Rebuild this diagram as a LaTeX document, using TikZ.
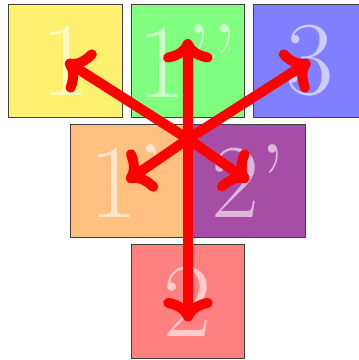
\documentclass[tikz,border=0pt]{standalone}
\usetikzlibrary{arrows.meta}
\definecolor{tileyellow}{HTML}{FFF170}
\definecolor{tilegreen}{HTML}{80FF80}
\definecolor{tileblue}{HTML}{8080FF}
\definecolor{tileorange}{HTML}{FFC080}
\definecolor{tilepurple}{HTML}{A64DA6}
\definecolor{tilered}{HTML}{FF8080}

\begin{document}
\begin{tikzpicture}[
    x=1pt, y=-1pt,
    tile/.style={draw=black!75, line width=0.8pt, minimum size=113.5pt, inner sep=0pt,
      text=white, text opacity=0.6, font=\fontsize{105}{105}\selectfont},
    vec/.style={draw=red, line width=10pt, line cap=round, -{To[round]}},
  ]
  \useasboundingbox (0,0) rectangle (359,360);

  % top row
  \node[tile, fill=tileyellow] (one) at (65.5, 61) {1};
  \node[tile, fill=tilegreen] (onebb) at (187.75, 61) {1'{}'};
  \node[tile, fill=tileblue] (three) at (310, 61) {3};

  % middle row
  \node[tile, fill=tileorange] (oneb) at (126.75, 181) {1'};
  \node[tile, fill=tilepurple] (twob) at (248.5, 181) {2'};

  % bottom row
  \node[tile, fill=tilered] (two) at (188, 301.5) {2};

  % arrows out of the common point
  \coordinate (hub) at (188, 139);
  \draw[vec] (hub) -- (one.center);
  \draw[vec] (hub) -- ([yshift=22pt]onebb.center);
  \draw[vec] (hub) -- (three.center);
  \draw[vec] (hub) -- (oneb.center);
  \draw[vec] (hub) -- (twob.center);
  \draw[vec] (hub) -- ([yshift=-20pt]two.center);

\end{tikzpicture}
\end{document}
